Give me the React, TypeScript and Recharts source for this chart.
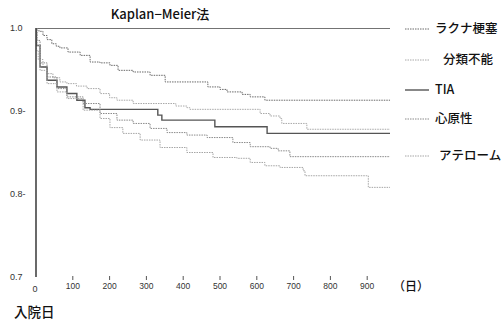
import React from "react";
import { LineChart, Line, XAxis, YAxis } from "recharts";

// Kaplan-Meier curves, [day, survival]
const lacunar = [
  [0, 1], [8, 0.996], [19, 0.991], [30, 0.986], [43, 0.981], [55, 0.978], [65, 0.976],
  [87, 0.971], [120, 0.967], [147, 0.959], [174, 0.958], [201, 0.955], [223, 0.949],
  [264, 0.947], [310, 0.943], [351, 0.935], [446, 0.935], [467, 0.929], [500, 0.926],
  [519, 0.923], [560, 0.92], [582, 0.917], [622, 0.913], [962, 0.913],
];
const unclassified = [
  [0, 1], [1, 0.973], [6, 0.962], [19, 0.953], [30, 0.945], [46, 0.94], [65, 0.935],
  [84, 0.933], [110, 0.93], [139, 0.927], [174, 0.921], [200, 0.916], [220, 0.913],
  [264, 0.909], [337, 0.909], [380, 0.906], [410, 0.904], [418, 0.902], [582, 0.902],
  [609, 0.897], [636, 0.894], [663, 0.891], [668, 0.885], [726, 0.885], [736, 0.878],
  [962, 0.878],
];
const tia = [
  [0, 1], [1, 0.979], [11, 0.953], [30, 0.937], [57, 0.929], [84, 0.921], [111, 0.913],
  [133, 0.904], [147, 0.902], [331, 0.895], [342, 0.889], [486, 0.881], [628, 0.873],
  [962, 0.873],
];
const cardio = [
  [0, 1], [3, 0.985], [11, 0.958], [30, 0.941], [57, 0.927], [84, 0.917], [128, 0.909],
  [174, 0.897], [220, 0.889], [264, 0.885], [310, 0.879], [356, 0.874], [410, 0.871],
  [465, 0.868], [535, 0.862], [582, 0.857], [636, 0.855], [658, 0.852], [690, 0.845],
  [962, 0.845],
];
const athero = [
  [0, 1], [3, 0.979], [11, 0.949], [30, 0.933], [57, 0.923], [84, 0.915], [128, 0.901],
  [174, 0.891], [201, 0.88], [236, 0.873], [283, 0.865], [337, 0.856], [410, 0.85],
  [481, 0.844], [546, 0.843], [582, 0.838], [622, 0.834], [663, 0.832], [726, 0.828],
  [731, 0.822], [899, 0.822], [903, 0.808], [962, 0.808],
];
const topLine = [[0, 1], [962, 1]];

const xTicks = [0, 100, 200, 300, 400, 500, 600, 700, 800, 900];
const yTicks = [0.7, 0.8, 0.9, 1.0];
const yTickText = ["0.7", "0.8-", "0.9-", "1.0"];

const series = [
  { name: "ラクナ梗塞", data: lacunar, color: "#6a6a6a", dash: "1.5 1", width: 1 },
  { name: "分類不能", data: unclassified, color: "#a8a8a8", dash: "1.5 1", width: 1 },
  { name: "TIA", data: tia, color: "#555", dash: undefined, width: 1.4 },
  { name: "心原性", data: cardio, color: "#8a8a8a", dash: "1.5 1", width: 1 },
  { name: "アテローム", data: athero, color: "#a5a5a5", dash: "1.5 1", width: 1 },
];

const legendPos = [
  { top: 29, textX: 435 },
  { top: 60, textX: 443 },
  { top: 90, textX: 435 },
  { top: 119, textX: 435 },
  { top: 156, textX: 439 },
];

const toRows = (pts: number[][]) => pts.map(([d, v]) => ({ d, v }));

const jp = '"Noto Sans CJK JP", "Noto Sans", sans-serif';
const latin = '"Liberation Sans", Arial, sans-serif';

const YTick = (props: any) => {
  const { x, y, payload } = props;
  const i = yTicks.indexOf(payload.value);
  return (
    <text x={x - 26} y={y} dy="0.35em" fontSize={9} fontFamily={latin} fill="#333" textAnchor="start">
      {yTickText[i]}
    </text>
  );
};

const XTick = (props: any) => {
  const { x, y, payload } = props;
  if (payload.value === 0) {
    return (
      <text x={x - 1} y={y + 12} dy="0.35em" fontSize={9} fontFamily={latin} fill="#333" textAnchor="middle">
        0
      </text>
    );
  }
  return (
    <g>
      <line x1={x} x2={x} y1={y - 1} y2={y + 3} stroke="#555" strokeWidth={1} />
      <text x={x} y={y + 9} dy="0.35em" fontSize={8.5} fontFamily={latin} fill="#333" textAnchor="middle">
        {payload.value}
      </text>
    </g>
  );
};

export default function App() {
  return (
    <div style={{ position: "absolute", left: 0, top: 0, width: 503, height: 325, background: "#fff" }}>
      <LineChart width={503} height={325} margin={{ top: 28, right: 99, bottom: 0, left: 0 }}>
        <XAxis
          dataKey="d"
          type="number"
          domain={[0, 1000]}
          ticks={xTicks}
          axisLine={false}
          tickLine={false}
          tickSize={0}
          tickMargin={0}
          height={48}
          tick={<XTick />}
          allowDataOverflow
        />
        <YAxis
          type="number"
          domain={[0.7, 1.0]}
          ticks={yTicks}
          width={36}
          axisLine={{ stroke: "#444", strokeWidth: 1.6 }}
          tickLine={false}
          tickSize={0}
          tickMargin={0}
          tick={<YTick />}
          allowDataOverflow
        />
        <Line
          data={toRows(topLine)}
          dataKey="v"
          stroke="#444"
          strokeWidth={1.3}
          dot={false}
          isAnimationActive={false}
        />
        {series.map((s) => (
          <Line
            key={s.name}
            name={s.name}
            data={toRows(s.data)}
            dataKey="v"
            type="stepAfter"
            stroke={s.color}
            strokeWidth={s.width}
            strokeDasharray={s.dash}
            dot={false}
            isAnimationActive={false}
          />
        ))}
      </LineChart>
      <svg
        width={503}
        height={325}
        style={{ position: "absolute", left: 0, top: 0, pointerEvents: "none" }}
      >
        <text x={160} y={14} dy="0.35em" textAnchor="middle" fontSize={13} fontFamily={jp} fontWeight={500} fill="#111">
          Kaplan−Meier法
        </text>
        {series.map((s, i) => (
          <g key={s.name}>
            <line
              x1={405}
              x2={429}
              y1={legendPos[i].top}
              y2={legendPos[i].top}
              stroke={s.color}
              strokeWidth={s.width}
              strokeDasharray={s.dash}
            />
            <text
              x={legendPos[i].textX}
              y={legendPos[i].top}
              dy="0.35em"
              fontSize={12.5}
              fontFamily={jp}
              fontWeight={500}
              fill="#111"
            >
              {s.name}
            </text>
          </g>
        ))}
        <text x={393} y={287} dy="0.35em" fontSize={12} fontFamily={jp} fontWeight={500} fill="#111">
          （日）
        </text>
        <text x={14} y={312} dy="0.35em" fontSize={13.5} fontFamily={jp} fontWeight={500} fill="#111">
          入院日
        </text>
      </svg>
    </div>
  );
}
